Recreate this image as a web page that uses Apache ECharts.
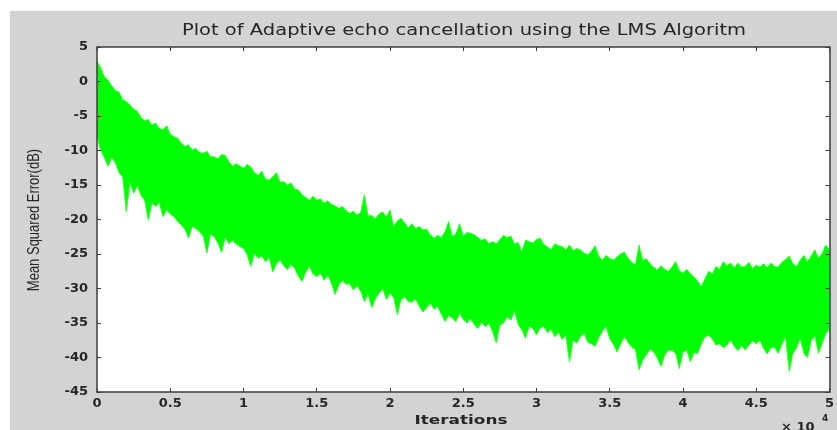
<!DOCTYPE html>
<html>
<head>
<meta charset="utf-8">
<title>LMS echo cancellation</title>
<script src="https://cdn.jsdelivr.net/npm/echarts@6/dist/echarts.min.js"></script>
<style>
  html, body { margin: 0; padding: 0; background: #fff; }
  #wrap { position: relative; width: 837px; height: 430px; }
  #figbg { position: absolute; left: 10px; top: 11px; right: 0; bottom: 0; background: #d3d3d3; }
  #main { position: absolute; left: 0; top: 0; width: 837px; height: 430px; }
</style>
</head>
<body>
<div id="wrap">
  <div id="figbg"></div>
  <div id="main"></div>
</div>
<script>
// samples every 250 iterations (0 .. 50000) in dB
var sampleStep = 250;

// top edge of the noisy MSE trace
var upperEnv = [
  3, 2.0, 0.7, 0.2, -0.6, -1.3, -1.5, -2.6, -2.9, -3.4,
  -4.0, -4.3, -5.2, -5.7, -5.5, -6.3, -6.0, -6.8, -7.0, -6.4,
  -7.6, -8.0, -8.2, -8.9, -9.4, -9.2, -9.9, -9.7, -10.3, -10.4,
  -10.1, -10.9, -10.9, -11.2, -10.6, -10.7, -11.6, -12.3, -11.9, -12.2,
  -12.6, -12.0, -12.4, -13.2, -13.6, -13.0, -14.1, -14.3, -13.8, -13.2,
  -14.6, -14.5, -15.0, -14.7, -15.6, -15.7, -16.4, -16.8, -17.2, -16.6,
  -17.2, -17.0, -17.6, -17.3, -17.8, -18.0, -18.4, -18.1, -18.7, -19.1,
  -18.8, -19.3, -19.0, -16.4, -19.5, -19.4, -19.9, -19.2, -18.9, -19.6,
  -18.6, -21.0, -20.2, -19.8, -20.5, -21.2, -20.6, -21.3, -21.0, -21.5,
  -21.4, -22.2, -22.7, -22.3, -22.6, -21.8, -20.3, -22.4, -22.1, -20.6,
  -22.4, -21.9, -22.0, -22.2, -22.6, -23.0, -22.8, -23.5, -23.2, -23.5,
  -22.9, -22.3, -22.6, -22.4, -23.6, -23.3, -24.7, -23.0, -23.2, -23.4,
  -22.9, -22.7, -23.6, -24.0, -24.4, -23.5, -23.8, -23.9, -24.4, -23.7,
  -24.5, -24.2, -24.4, -24.9, -25.1, -24.6, -23.8, -25.3, -25.9, -25.2,
  -25.6, -25.9, -25.4, -25.0, -24.7, -25.6, -26.2, -26.6, -23.7, -25.9,
  -25.7, -26.4, -26.9, -27.3, -26.7, -27.2, -27.5, -26.9, -26.1, -27.4,
  -27.8, -27.2, -27.8, -28.3, -28.9, -29.7, -28.6, -27.5, -27.9, -26.8,
  -27.2, -26.1, -26.7, -26.3, -27.0, -26.3, -26.9, -26.8, -26.2, -27.1,
  -26.6, -26.9, -26.4, -27.0, -26.3, -26.8, -26.9, -26.2, -25.8, -25.3,
  -26.4, -26.8, -25.9, -25.2, -26.1, -25.3, -24.4, -25.6, -24.9, -23.7,
  -24.4
];

// bottom edge of the noisy MSE trace
var lowerEnv = [
  -8.0, -10.0, -11.0, -12.3, -11.0, -11.8, -13.2, -13.8, -18.9, -14.6,
  -16.2, -15.1, -16.5, -17.2, -20.1, -17.6, -18.1, -17.5, -19.6, -18.6,
  -19.2, -19.6, -20.3, -20.8, -21.4, -22.7, -21.0, -21.3, -21.8, -22.4,
  -24.9, -22.1, -22.5, -23.4, -24.8, -22.6, -23.5, -23.0, -23.6, -23.9,
  -24.2, -25.1, -26.8, -24.9, -25.6, -25.3, -26.1, -25.5, -27.6, -26.4,
  -25.9, -26.7, -27.3, -26.5, -27.1, -28.2, -29.0, -27.6, -26.8, -27.9,
  -28.3, -27.8, -28.8, -28.1, -29.2, -30.9, -29.5, -28.8, -29.4, -29.3,
  -30.2, -29.6, -30.4, -31.9, -30.8, -32.8, -31.5, -30.7, -30.0, -31.6,
  -30.7, -31.3, -33.8, -31.6, -31.2, -31.9, -32.0, -31.5, -32.6, -33.4,
  -32.8, -32.1, -33.0, -32.6, -33.7, -34.8, -33.9, -34.3, -34.8, -33.6,
  -34.5, -35.0, -34.4, -35.2, -35.8, -34.9, -35.5, -35.1, -36.2, -37.9,
  -35.3, -35.0, -34.1, -34.6, -33.2, -35.2, -36.0, -37.2, -35.5, -35.8,
  -36.7, -35.7, -35.5, -36.4, -35.9, -37.0, -36.3, -37.4, -36.8, -40.6,
  -37.5, -37.9, -37.0, -36.5, -37.8, -38.0, -38.4, -37.1, -36.2, -35.5,
  -37.3, -38.1, -39.2, -38.0, -37.0, -37.8, -38.5, -38.8, -41.8, -40.4,
  -39.6, -38.8, -39.2, -40.1, -41.3, -39.7, -38.9, -39.0, -39.4, -41.6,
  -39.2, -38.9, -40.6, -39.3, -39.4, -38.1, -37.0, -36.8, -37.3, -38.2,
  -38.0, -38.6, -38.2, -37.5, -38.4, -39.0, -38.3, -38.9, -38.2, -37.6,
  -38.0, -37.5, -38.7, -39.5, -38.6, -38.5, -39.4, -38.1, -37.0, -42.0,
  -39.4, -38.6, -37.2, -39.4, -40.0, -37.6, -36.8, -39.4, -38.0, -36.5,
  -36.0
];

var xMax = 50000, xTick = 5000;
var yMin = -45, yMax = 5, yTick = 5;

var upperData = upperEnv.map(function (v, i) { return [i * sampleStep, v]; });
var lowerData = lowerEnv.map(function (v, i) { return [i * sampleStep, v]; });

var chart = echarts.init(document.getElementById('main'));
var axisCol = '#3c3c3c';
var txtCol = '#262626';
var tickFont = { color: txtCol, fontFamily: 'DejaVu Sans', fontSize: 13, fontWeight: 'bold' };

function boxAxis(pos, isX) {
  var ax = {
    type: 'value', position: pos, z: 10,
    axisLine: { onZero: false, lineStyle: { color: axisCol, width: 1.5 } },
    axisTick: { inside: true, length: 4, lineStyle: { color: axisCol } },
    axisLabel: { show: false },
    splitLine: { show: false }
  };
  if (isX) { ax.min = 0; ax.max = xMax; ax.interval = xTick; }
  else { ax.min = yMin; ax.max = yMax; ax.interval = yTick; }
  return ax;
}

var xBottom = boxAxis('bottom', true);
xBottom.axisLabel = echarts.util.extend({
  show: true, margin: 5,
  formatter: function (v) { return String(v / 10000); }
}, tickFont);
var yLeft = boxAxis('left', false);
yLeft.axisLabel = echarts.util.extend({ show: true, margin: 9 }, tickFont);

var option = {
  animation: false,
  grid: {
    left: 97, right: 5, top: 47, bottom: 38,
    show: true, backgroundColor: '#ffffff', borderWidth: 0
  },
  xAxis: [xBottom, boxAxis('top', true)],
  yAxis: [yLeft, boxAxis('right', false)],
  graphic: [
    {
      type: 'text', x: 464, y: 31, scaleX: 1.3,
      style: {
        text: 'Plot of Adaptive echo cancellation using the LMS Algoritm',
        fill: txtCol, font: '15px "DejaVu Sans"',
        textAlign: 'center', textVerticalAlign: 'middle'
      }
    },
    {
      type: 'text', x: 461, y: 421, scaleX: 1.3,
      style: {
        text: 'Iterations', fill: txtCol, font: 'bold 13px "DejaVu Sans"',
        textAlign: 'center', textVerticalAlign: 'middle'
      }
    },
    {
      type: 'text', x: 34, y: 220, rotation: Math.PI / 2, scaleY: 1.3,
      style: {
        text: 'Mean Squared Error(dB)', fill: txtCol, font: '13px "Liberation Sans"',
        textAlign: 'center', textVerticalAlign: 'middle'
      }
    },
    {
      type: 'text', x: 781, y: 428,
      style: { text: '\u00d7 10', fill: txtCol, font: 'bold 13px "DejaVu Sans"', textVerticalAlign: 'middle' }
    },
    {
      type: 'text', x: 822, y: 419,
      style: { text: '4', fill: txtCol, font: 'bold 9px "DejaVu Sans"', textVerticalAlign: 'middle' }
    }
  ],
  series: [{
    // green fill from the top edge of the trace down to the axis
    name: 'mse upper',
    type: 'line',
    data: upperData,
    symbol: 'none',
    z: 2,
    lineStyle: { color: '#33ff33', width: 1 },
    areaStyle: { color: '#00ff00', opacity: 1, origin: 'start' }
  }, {
    // white fill below the bottom edge of the trace
    name: 'mse lower',
    type: 'line',
    data: lowerData,
    symbol: 'none',
    z: 3,
    lineStyle: { color: '#33ff33', width: 1 },
    areaStyle: { color: '#ffffff', opacity: 1, origin: 'start' }
  }]
};

chart.setOption(option);
window.addEventListener('resize', function () { chart.resize(); });
</script>
</body>
</html>
